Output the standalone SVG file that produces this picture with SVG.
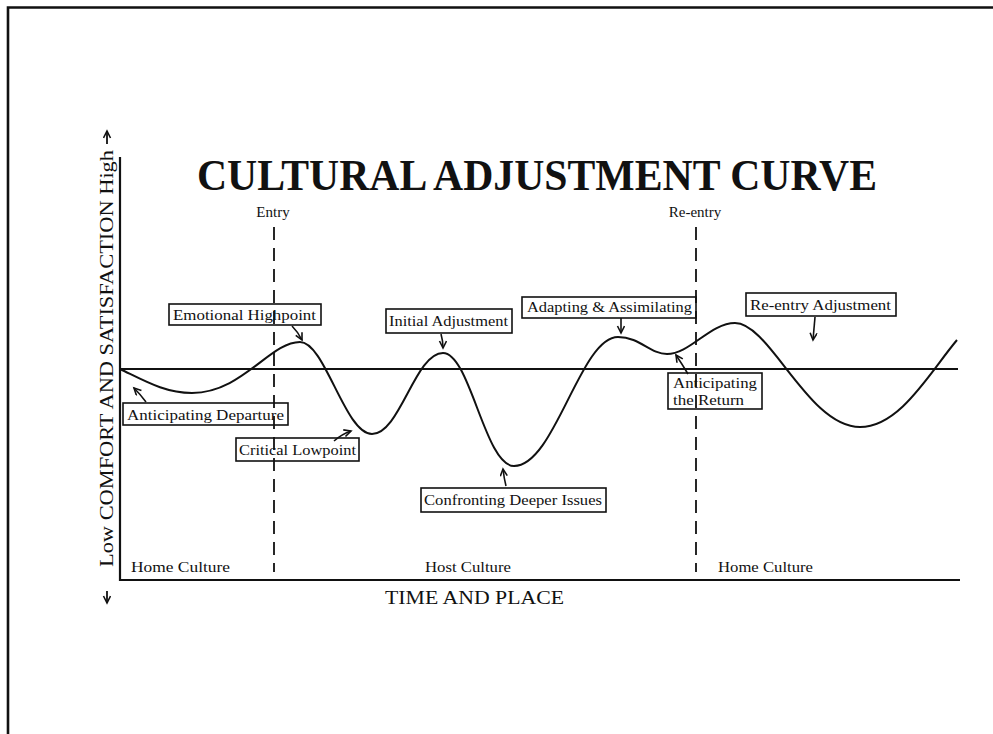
<svg xmlns="http://www.w3.org/2000/svg" width="993" height="734" viewBox="0 0 993 734">
<style>
.t{font-family:"Liberation Serif","DejaVu Serif",serif;fill:#111}
.lbl{font-size:15px}
.box{fill:none;stroke:#111;stroke-width:1.6}
.ln{fill:none;stroke:#111}
.arr{fill:none;stroke:#111;stroke-width:1.6;marker-end:url(#ah)}
</style>
<defs>
<marker id="ah" markerUnits="userSpaceOnUse" markerWidth="12" markerHeight="10" refX="8" refY="4" orient="auto">
<path d="M1,0.5 L8,4 L1,7.5" fill="none" stroke="#111" stroke-width="1.6"/>
</marker>
</defs>
<rect width="993" height="734" fill="#fff"/>
<g id="frame">
<path class="ln" stroke-width="2.6" d="M8,734 V7.5 H993"/>
</g>
<g id="title">
<text class="t" x="197" y="190" font-size="45" font-weight="bold" textLength="680" lengthAdjust="spacingAndGlyphs">CULTURAL ADJUSTMENT CURVE</text>
</g>
<g id="axes">
<path class="ln" stroke-width="2.2" d="M120,157 V580 H960"/>
<line class="ln" stroke-width="1.8" x1="120" y1="369" x2="958" y2="369"/>
<text class="t" transform="translate(113,567) rotate(-90)" font-size="19" textLength="417" lengthAdjust="spacingAndGlyphs">Low COMFORT AND SATISFACTION High</text>
<line class="ln" stroke-width="1.8" x1="107" y1="144" x2="107" y2="131" marker-end="url(#ah)"/>
<line class="ln" stroke-width="1.8" x1="107" y1="591" x2="107" y2="603" marker-end="url(#ah)"/>
<text class="t" x="385" y="604" font-size="19" textLength="179" lengthAdjust="spacingAndGlyphs">TIME AND PLACE</text>
</g>
<g id="phases">
<line class="ln" stroke-width="1.8" stroke-dasharray="13,8" x1="274" y1="227" x2="274" y2="572"/>
<line class="ln" stroke-width="1.8" stroke-dasharray="13,8" x1="696" y1="227" x2="696" y2="572"/>
<text class="t" x="273" y="217" font-size="15" text-anchor="middle">Entry</text>
<text class="t" x="695" y="217" font-size="15" text-anchor="middle">Re-entry</text>
<text class="t lbl" x="131" y="572" textLength="99" lengthAdjust="spacingAndGlyphs">Home Culture</text>
<text class="t lbl" x="425" y="572" textLength="86" lengthAdjust="spacingAndGlyphs">Host Culture</text>
<text class="t lbl" x="718" y="572" textLength="95" lengthAdjust="spacingAndGlyphs">Home Culture</text>
</g>
<g id="curve">
<path class="ln" stroke-width="2" d="M120,369 C145,381 165,393 192,393 C242,393 270,342 300,342 C325,342 345,434 372,434 C400,434 415,353 443,353 C470,353 485,466 514,466 C555,466 580,337 618,337 C640,337 650,354 667,354 C690,354 710,323 735,323 C770,323 808,427 860,427 C900,427 930,372 957,340"/>
</g>
<g id="connectors">
<path class="arr" d="M292,326 Q298,332 302,340"/>
<path class="arr" d="M146,402 Q140,394 134,388"/>
<path class="arr" d="M334,441 Q342,434 351,431"/>
<path class="arr" d="M441,334 Q443,341 443,348"/>
<path class="arr" d="M621,318 L621,333"/>
<path class="arr" d="M506,486 Q504,478 503,469"/>
<path class="arr" d="M688,374 Q682,364 676,355"/>
<path class="arr" d="M815,317 L813,340"/>
</g>
<g id="n-emotional-highpoint">
<rect class="box" x="169" y="304" width="152" height="21"/>
<text class="t lbl" x="173" y="320" textLength="143" lengthAdjust="spacingAndGlyphs">Emotional Highpoint</text>
</g>
<g id="n-anticipating-departure">
<rect class="box" x="123" y="403" width="165" height="22"/>
<text class="t lbl" x="127" y="420" textLength="157" lengthAdjust="spacingAndGlyphs">Anticipating Departure</text>
</g>
<g id="n-critical-lowpoint">
<rect class="box" x="236" y="438" width="123" height="23"/>
<text class="t lbl" x="239" y="455" textLength="117" lengthAdjust="spacingAndGlyphs">Critical Lowpoint</text>
</g>
<g id="n-initial-adjustment">
<rect class="box" x="386" y="309" width="126" height="24"/>
<text class="t lbl" x="389" y="326" textLength="119" lengthAdjust="spacingAndGlyphs">Initial Adjustment</text>
</g>
<g id="n-adapting">
<rect class="box" x="522" y="297" width="174" height="21"/>
<text class="t lbl" x="527" y="312" textLength="165" lengthAdjust="spacingAndGlyphs">Adapting &amp; Assimilating</text>
</g>
<g id="n-confronting">
<rect class="box" x="421" y="488" width="185" height="24"/>
<text class="t lbl" x="424" y="505" textLength="178" lengthAdjust="spacingAndGlyphs">Confronting Deeper Issues</text>
</g>
<g id="n-anticipating-return">
<rect class="box" x="668" y="373" width="94" height="36"/>
<text class="t" font-size="14.5" x="673" y="388" textLength="84" lengthAdjust="spacingAndGlyphs">Anticipating</text>
<text class="t" font-size="14.5" x="673" y="405" textLength="71" lengthAdjust="spacingAndGlyphs">the Return</text>
</g>
<g id="n-reentry-adjustment">
<rect class="box" x="746" y="293" width="150" height="23"/>
<text class="t lbl" x="750" y="310" textLength="141" lengthAdjust="spacingAndGlyphs">Re-entry Adjustment</text>
</g>
</svg>
